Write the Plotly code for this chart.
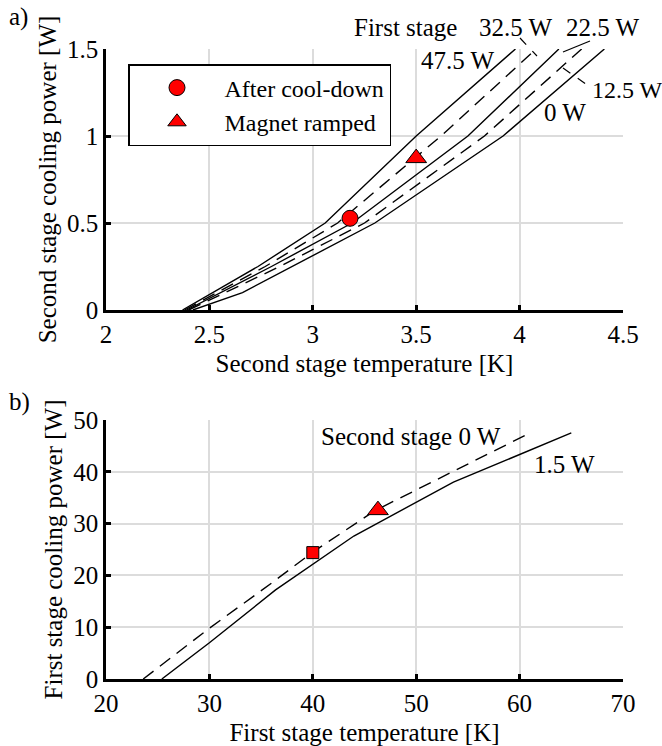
import plotly.graph_objects as go

# ---------------- data ----------------
# Panel a: second stage cooling power vs temperature, for first-stage loads
load_labels = ["47.5 W", "32.5 W", "22.5 W", "12.5 W", "0 W"]
load_dashed = [False, True, False, True, False]
t2_47 = [2.37, 2.735, 3.06, 3.50, 3.98]
p2_47 = [0.0, 0.25, 0.5, 1.0, 1.5]
t2_32 = [2.38, 2.77, 3.12, 3.62, 4.08]
p2_32 = [0.0, 0.25, 0.5, 1.0, 1.5]
t2_22 = [2.39, 2.80, 3.19, 3.75, 4.19]
p2_22 = [0.0, 0.25, 0.5, 1.0, 1.5]
t2_12 = [2.40, 2.84, 3.25, 3.83, 4.30]
p2_12 = [0.0, 0.25, 0.5, 1.0, 1.5]
t2_00 = [2.42, 2.66, 3.30, 3.92, 4.41]
p2_00 = [0.0, 0.1, 0.5, 1.0, 1.5]

cool_t2, cool_p2 = [3.18], [0.527]
ramp_t2, ramp_p2 = [3.50], [0.873]

# Panel b: first stage cooling power vs temperature
t1_s0 = [23.6, 30.0, 36.0, 40.0, 46.0, 54.0, 61.0]
p1_s0 = [0.0, 9.8, 18.5, 24.5, 32.5, 40.5, 47.5]
t1_s15 = [25.4, 30.0, 36.4, 43.97, 53.6, 65.0]
p1_s15 = [0.0, 7.0, 17.2, 27.6, 38.0, 47.5]

cool_t1, cool_p1 = [40.0], [24.4]
ramp_t1, ramp_p1 = [46.3], [32.6]

xticks_a = [2, 2.5, 3, 3.5, 4, 4.5]
xlabels_a = ["2", "2.5", "3", "3.5", "4", "4.5"]
yticks_a = [0, 0.5, 1, 1.5]
ylabels_a = ["0", "0.5", "1", "1.5"]
xticks_b = [20, 30, 40, 50, 60, 70]
yticks_b = [0, 10, 20, 30, 40, 50]

# ---------------- figure ----------------
W, H = 662, 746
L, R, T, B = 106, 39, 49, 67
FONT = "Liberation Serif"
FS = 25
DASH = "13px,8px"

fig = go.Figure()

curves = [(t2_47, p2_47), (t2_32, p2_32), (t2_22, p2_22), (t2_12, p2_12), (t2_00, p2_00)]
for (tx, py), name, dsh in zip(curves, load_labels, load_dashed):
    fig.add_trace(go.Scatter(x=tx, y=py, mode="lines", name=name, showlegend=False,
                             line=dict(color="black", width=1.4, dash=DASH if dsh else "solid"),
                             xaxis="x", yaxis="y"))

fig.add_trace(go.Scatter(x=cool_t2, y=cool_p2, mode="markers", name="After cool-down",
                         marker=dict(symbol="circle", size=16, color="#ff0000",
                                     line=dict(color="black", width=1)),
                         xaxis="x", yaxis="y"))
fig.add_trace(go.Scatter(x=ramp_t2, y=ramp_p2, mode="markers", name="Magnet ramped",
                         marker=dict(symbol="triangle-up", size=18, color="#ff0000",
                                     line=dict(color="black", width=1)),
                         xaxis="x", yaxis="y"))

fig.add_trace(go.Scatter(x=t1_s0, y=p1_s0, mode="lines", showlegend=False,
                         line=dict(color="black", width=1.4, dash=DASH),
                         xaxis="x2", yaxis="y2"))
fig.add_trace(go.Scatter(x=t1_s15, y=p1_s15, mode="lines", showlegend=False,
                         line=dict(color="black", width=1.4),
                         xaxis="x2", yaxis="y2"))
fig.add_trace(go.Scatter(x=cool_t1, y=cool_p1, mode="markers", showlegend=False,
                         marker=dict(symbol="square", size=12, color="#ff0000",
                                     line=dict(color="black", width=1)),
                         xaxis="x2", yaxis="y2"))
fig.add_trace(go.Scatter(x=ramp_t1, y=ramp_p1, mode="markers", showlegend=False,
                         marker=dict(symbol="triangle-up", size=18, color="#ff0000",
                                     line=dict(color="black", width=1)),
                         xaxis="x2", yaxis="y2"))

plot_h = H - T - B
def py2paper(py):
    return (H - B - py) / plot_h
def px2paper(px):
    return (px - L) / (W - L - R)

dom_a = [py2paper(310), 1.0]
dom_b = [0.0, py2paper(420)]

axcommon = dict(showline=True, linecolor="black", linewidth=2.5, mirror=False,
                ticks="inside", ticklen=5, tickwidth=2.5, tickcolor="black",
                showgrid=True, gridcolor="#dcdcdc", gridwidth=2, zeroline=False,
                automargin=False,
                tickfont=dict(family=FONT, size=FS, color="black"))

fig.update_layout(
    width=W, height=H, margin=dict(l=L, r=R, t=T, b=B, autoexpand=False),
    paper_bgcolor="white", plot_bgcolor="white",
    font=dict(family=FONT, size=FS, color="black"),
    xaxis=dict(range=[2, 4.5], tickvals=xticks_a, ticktext=xlabels_a,
               anchor="y", domain=[0, 1],
               title=dict(text="Second stage temperature [K]", standoff=8,
                          font=dict(family=FONT, size=FS)), **axcommon),
    yaxis=dict(range=[0, 1.5], tickvals=yticks_a, ticktext=ylabels_a,
               anchor="x", domain=dom_a,
               title=dict(text="Second stage cooling power [W]", standoff=4,
                          font=dict(family=FONT, size=FS)), **axcommon),
    xaxis2=dict(range=[20, 70], tickvals=xticks_b, anchor="y2", domain=[0, 1],
                title=dict(text="First stage temperature [K]", standoff=8,
                           font=dict(family=FONT, size=FS)), **axcommon),
    yaxis2=dict(range=[0, 50], tickvals=yticks_b, anchor="x2", domain=dom_b,
                title=dict(text="First stage cooling power [W]", standoff=4,
                           font=dict(family=FONT, size=FS)), **axcommon),
    legend=dict(x=px2paper(128), y=py2paper(64), xanchor="left", yanchor="top",
                bordercolor="black", borderwidth=1.5, bgcolor="white",
                itemwidth=85, font=dict(family=FONT, size=24), tracegroupgap=0),
    showlegend=True,
)

def ann(text, px, py, xanchor="center", size=FS):
    fig.add_annotation(text=text, x=px2paper(px), y=py2paper(py), xref="paper", yref="paper",
                       xanchor=xanchor, yanchor="middle", showarrow=False,
                       font=dict(family=FONT, size=size, color="black"))

ann("a)", 7, 17, "left")
ann("b)", 7, 402, "left")
ann("First stage", 405, 28)
ann("32.5 W", 516, 28)
ann("22.5 W", 603, 28)
ann("47.5 W", 458, 60)
ann("12.5 W", 590, 90, "left", 24)
ann("0 W", 565, 113)
ann("Second stage 0 W", 411, 436)
ann("1.5 W", 564, 464)

def leader(x0, y0, x1, y1, dash="solid"):
    fig.add_shape(type="line", xref="paper", yref="paper",
                  x0=px2paper(x0), y0=py2paper(y0), x1=px2paper(x1), y1=py2paper(y1),
                  line=dict(color="black", width=1.2, dash=dash))

leader(520, 38, 537, 56, "dash")
leader(563, 52, 590, 41)
leader(563, 68, 590, 87, "dash")

fig.write_html("out.html")
